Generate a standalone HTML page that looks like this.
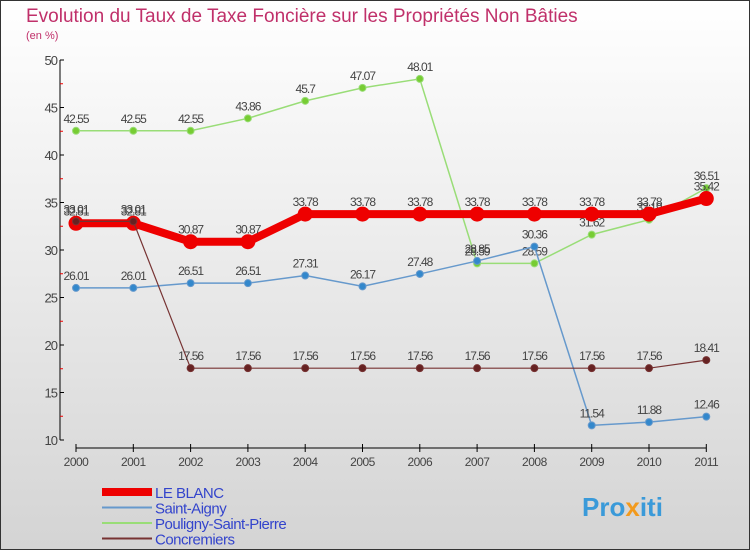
<!DOCTYPE html>
<html><head><meta charset="utf-8"><style>
body{margin:0;width:750px;height:550px;overflow:hidden;font-family:"Liberation Sans",sans-serif}
</style></head><body>
<svg width="750" height="550" xmlns="http://www.w3.org/2000/svg">
<defs><linearGradient id="bg" x1="0" y1="0" x2="0" y2="1"><stop offset="0" stop-color="#ffffff"/><stop offset="1" stop-color="#d4d4d4"/></linearGradient></defs>
<rect x="0.5" y="0.5" width="749" height="549" fill="url(#bg)" stroke="#333"/>
<text x="26" y="22" font-size="19" fill="#c0306a">Evolution du Taux de Taxe Foncière sur les Propriétés Non Bâties</text>
<text x="26" y="39" font-size="11" fill="#c0306a">(en %)</text>
<g id="axes"></g>
<g id="series"></g>
<g id="legend"></g>
<text x="582" y="516" font-size="26" font-weight="bold" fill="#3a9ad9">Pro<tspan fill="#f29a1d">x</tspan>iti</text>
</svg>
<script>
const years=["2000","2001","2002","2003","2004","2005","2006","2007","2008","2009","2010","2011"];
const yTicks=[10,15,20,25,30,35,40,45,50];
const leBlanc=[32.81,32.81,30.87,30.87,33.78,33.78,33.78,33.78,33.78,33.78,33.78,35.42];
const saintAigny=[26.01,26.01,26.51,26.51,27.31,26.17,27.48,28.85,30.36,11.54,11.88,12.46];
const pouligny=[42.55,42.55,42.55,43.86,45.7,47.07,48.01,28.59,28.59,31.62,33.19,36.51];
const concremiers=[33.01,33.01,17.56,17.56,17.56,17.56,17.56,17.56,17.56,17.56,17.56,18.41];
const NS="http://www.w3.org/2000/svg";
const X=i=>76+i*57.3;
const Y=v=>60+(50-v)*9.5;
function mk(t,a,p){const e=document.createElementNS(NS,t);for(const k in a)e.setAttribute(k,a[k]);p.appendChild(e);return e;}
const ax=document.getElementById('axes');
let yl=mk('line',{x1:60,y1:60,x2:60,y2:440,stroke:'#000'},ax);


yTicks.forEach(v=>{
 mk('line',{x1:60,y1:Y(v),x2:64,y2:Y(v),stroke:'#000'},ax);
 if(v<50)mk('line',{x1:60,y1:Y(v+2.5),x2:63,y2:Y(v+2.5),stroke:'#e00'},ax);
 const t=mk('text',{x:57,y:Y(v)+5,'font-size':13,'text-anchor':'end',fill:'#444','letter-spacing':'-1'},ax);
 t.textContent=v;
 
 
});
let xl=mk('line',{x1:76,y1:448,x2:706,y2:448,stroke:'#000'},ax);


years.forEach((y,i)=>{
 mk('line',{x1:X(i),y1:444,x2:X(i),y2:452,stroke:'#000'},ax);
 const t=mk('text',{x:X(i),y:466,'font-size':12,'text-anchor':'middle',fill:'#444','letter-spacing':'-0.5'},ax);
 t.textContent=y;
 
 
});
const sg=document.getElementById('series');
function series(name,data,color,w,r,dot){
 const g=mk('g',{},sg);
 
 
 mk('polyline',{points:data.map((v,i)=>X(i)+','+Y(v)).join(' '),fill:'none',stroke:color,'stroke-width':w},g);
 data.forEach((v,i)=>{
  const c=mk('circle',{cx:X(i),cy:Y(v),r:r,fill:dot,stroke:color,'stroke-width':1},g);
  
  
  const t=mk('text',{x:X(i),y:Y(v)-8,'font-size':12,'text-anchor':'middle',fill:'#444','letter-spacing':'-1'},g);
  t.textContent=String(v);
  
  
 });
}
series('pouligny-line',pouligny,'#99dd77',1.5,3.5,'#77cc33');
series('saint-aigny-line',saintAigny,'#6699cc',1.5,3.5,'#3388cc');
series('le-blanc-line',leBlanc,'#ee0000',8,7,'#ee0000');
series('concremiers-line',concremiers,'#773333',1.2,3.5,'#662222');
const lg=document.getElementById('legend');
const items=[['LE BLANC','#ee0000',8],['Saint-Aigny','#6699cc',2],['Pouligny-Saint-Pierre','#99dd77',2],['Concremiers','#773333',2]];
items.forEach((it,i)=>{
 const g=mk('g',{},lg);
 
 
 const y=492+i*15.5;
 mk('line',{x1:102,y1:y,x2:152,y2:y,stroke:it[1],'stroke-width':it[2]},g);
 const t=mk('text',{x:155,y:y+6,'font-size':15,fill:'#3344cc','letter-spacing':'-0.5'},g);
 t.textContent=it[0];
});
</script>
</body></html>
